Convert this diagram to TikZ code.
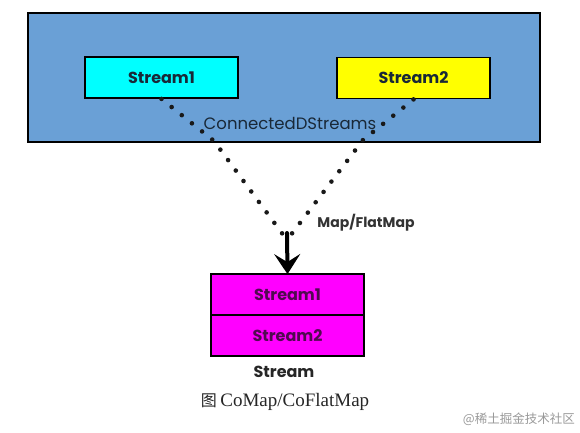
\documentclass[tikz,border=0pt]{standalone}
\usepackage{fontspec}
\setmainfont{Poppins}
\newfontfamily\capfont{Liberation Serif}
\newfontfamily\cjkfont{Noto Sans CJK SC}
\usetikzlibrary{arrows.meta}
\definecolor{bgblue}{RGB}{106,160,214}
\definecolor{cyanbox}{RGB}{0,255,255}
\definecolor{yellowbox}{RGB}{255,255,0}
\definecolor{magbox}{RGB}{255,0,255}
\definecolor{txtdark}{RGB}{25,40,55}
\definecolor{txtpurple}{RGB}{80,10,80}
\begin{document}
\begin{tikzpicture}[x=1pt,y=-1pt,
  box/.style={draw=black, line width=1.8pt, minimum width=153pt, minimum height=41pt, inner sep=0pt, font=\fontsize{16}{18}\selectfont\bfseries},
  dotline/.style={line width=4.6pt, line cap=round, dash pattern=on 0pt off 13pt, black!90},
  lbl/.style={inner sep=0pt, font=\fontsize{15}{18}\selectfont}
]
\useasboundingbox (0,0) rectangle (580,432);
\node[draw=black, line width=1.8pt, fill=bgblue, minimum width=512pt, minimum height=129pt, inner sep=0pt] (outer) at (284,77.5) {};
\node[box, fill=cyanbox, text=txtdark] (s1) at (161.5,77.5) {Stream1};
\node[box, fill=yellowbox, text=txtdark] (s2) at (413.5,78) {Stream2};
\node[lbl, text=txtdark, font=\fontsize{16.5}{18}\selectfont] (cds) at (290,123) {ConnectedDStreams};
\node[box, fill=magbox, text=txtpurple] (m1) at (287.5,294.5) {Stream1};
\node[box, fill=magbox, text=txtpurple] (m2) at (287.5,335.5) {Stream2};
\node[lbl, font=\fontsize{16}{18}\selectfont\bfseries, text=black!85] (st) at (284,372) {Stream};
\node[lbl, font=\fontsize{14}{16}\selectfont\bfseries, text=black!80] (mf) at (366,223) {Map/FlatMap};
\node[lbl, text=black!85] (cap) at (285,402) {\cjkfont\fontsize{16}{18}\selectfont 图\ \capfont\fontsize{19}{22}\selectfont CoMap/CoFlatMap};
\node[lbl, text=black!40, anchor=east] (wm) at (575,419) {\cjkfont\fontsize{12.5}{15}\selectfont @稀土掘金技术社区};
\coordinate (kL) at (214,141);
\coordinate (kR) at (363,140);
\coordinate (mid) at (287,240);
\draw[dotline] (s1.south) -- (kL) -- (mid);
\draw[dotline] (s2.south) -- (kR) -- (mid);
\draw[line width=4pt, black, line cap=round, -{Stealth[length=20pt, width=26pt, inset=8pt]}] ([yshift=7pt]mid) -- ([yshift=-1pt]m1.north);
\end{tikzpicture}
\end{document}
